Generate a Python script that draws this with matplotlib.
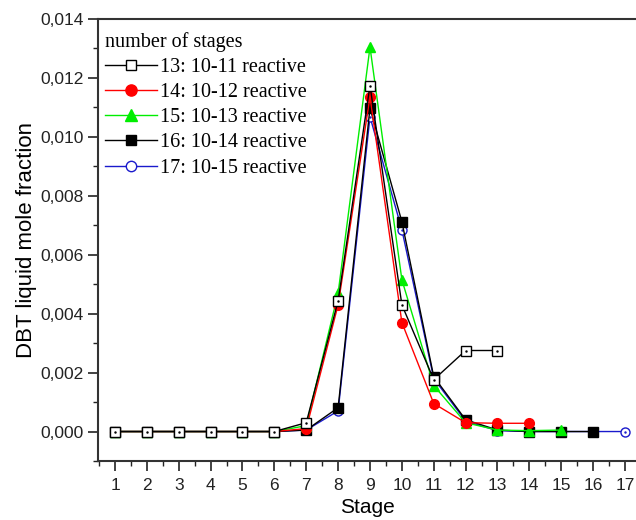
import matplotlib
matplotlib.use("Agg")
import matplotlib.pyplot as plt
from matplotlib.ticker import MultipleLocator, FuncFormatter

stages13 = list(range(1, 14))
vals13 = [0, 0, 0, 0, 0, 0, 0.0003, 0.00444, 0.01174, 0.0043, 0.00176, 0.00275, 0.00275]
stages14 = list(range(1, 15))
vals14 = [0, 0, 0, 0, 0, 0, 0.0001, 0.0043, 0.01136, 0.0037, 0.00095, 0.0003, 0.00028, 0.00028]
stages15 = list(range(1, 16))
vals15 = [0, 0, 0, 0, 0, 0, 0.0002, 0.0047, 0.01305, 0.00515, 0.00156, 0.0003, 0.00005, 0.00003, 0.00005]
stages16 = list(range(1, 17))
vals16 = [0, 0, 0, 0, 0, 0, 0.00005, 0.00081, 0.01098, 0.00712, 0.00186, 0.0004, 0.00005, 0.0, 0.0, 0.0]
stages17 = list(range(1, 18))
vals17 = [0, 0, 0, 0, 0, 0, 0.00005, 0.0007, 0.01068, 0.00685, 0.0018, 0.00035, 0.00003, 0.0, 0.0, 0.0, 0.0]

labels = ["13: 10-11 reactive", "14: 10-12 reactive", "15: 10-13 reactive",
          "16: 10-14 reactive", "17: 10-15 reactive"]

fig = plt.figure(figsize=(6.36, 5.2), dpi=100)
ax = fig.add_axes([98/636, 1 - 461/520, 1 - 98/636, (461 - 19)/520])

lw = 1.0
h17, = ax.plot(stages17, vals17, color="#1a1acc", lw=lw, marker="o", ms=6.5,
               mfc="white", mec="#1a1acc", mew=1.0, zorder=2)
h16, = ax.plot(stages16, vals16, color="black", lw=lw, marker="s", ms=6.5,
               mfc="black", mec="black", zorder=3)
h15, = ax.plot(stages15, vals15, color="#00ee00", lw=lw, marker="^", ms=7.5,
               mfc="#00ee00", mec="#00ee00", zorder=4)
h14, = ax.plot(stages14, vals14, color="red", lw=lw, marker="o", ms=7,
               mfc="red", mec="red", zorder=5)
h13, = ax.plot(stages13, vals13, color="black", lw=lw, marker="s", ms=6.5,
               mfc="white", mec="black", mew=1.0, zorder=6)
# small dot in centers of open markers
ax.plot(stages13, vals13, ls="none", marker=".", ms=1.5, color="black", zorder=7)
ax.plot(stages17, vals17, ls="none", marker=".", ms=1.5, color="#1a1acc", zorder=2.5)

ax.set_xlim(1 - 17/31.875, 17 + 11/31.875)
ax.set_ylim(-0.001, 0.014)

ax.xaxis.set_major_locator(MultipleLocator(1))
ax.xaxis.set_minor_locator(MultipleLocator(0.5))
ax.yaxis.set_major_locator(MultipleLocator(0.002))
ax.yaxis.set_minor_locator(MultipleLocator(0.001))
ax.yaxis.set_major_formatter(FuncFormatter(lambda v, p: f"{v:.3f}".replace(".", ",").replace("-0,000", "0,000")))

for s in ["left", "bottom", "top"]:
    ax.spines[s].set_linewidth(1.5)
    ax.spines[s].set_color("#333333")
ax.spines["right"].set_visible(False)
ax.tick_params(axis="both", which="major", direction="out", length=7, width=1.2,
               labelsize=12.5, colors="#222222")
ax.tick_params(axis="x", which="major", pad=5)
ax.tick_params(axis="both", which="minor", direction="out", length=3.5, width=1.0, colors="#222222")
ax.tick_params(top=False, right=False, which="both")
for lab in ax.get_xticklabels() + ax.get_yticklabels():
    lab.set_family("Liberation Sans")

ax.set_xlabel("Stage", fontsize=15, family="Liberation Sans", labelpad=4)
ax.set_ylabel("DBT liquid mole fraction", fontsize=16, family="Liberation Sans", labelpad=2)

leg = ax.legend([h13, h14, h15, h16, h17], labels, loc="upper left",
                bbox_to_anchor=(7/538, 1 - 13/442),
                title="number of stages", frameon=False,
                prop={"family": "Liberation Serif", "size": 14.5},
                title_fontproperties={"family": "Liberation Serif", "size": 14.5},
                handlelength=2.6, handletextpad=0.15, labelspacing=0.3,
                borderaxespad=0, borderpad=0, alignment="left", markerscale=1.15)

fig.savefig("out.png", dpi=100)
